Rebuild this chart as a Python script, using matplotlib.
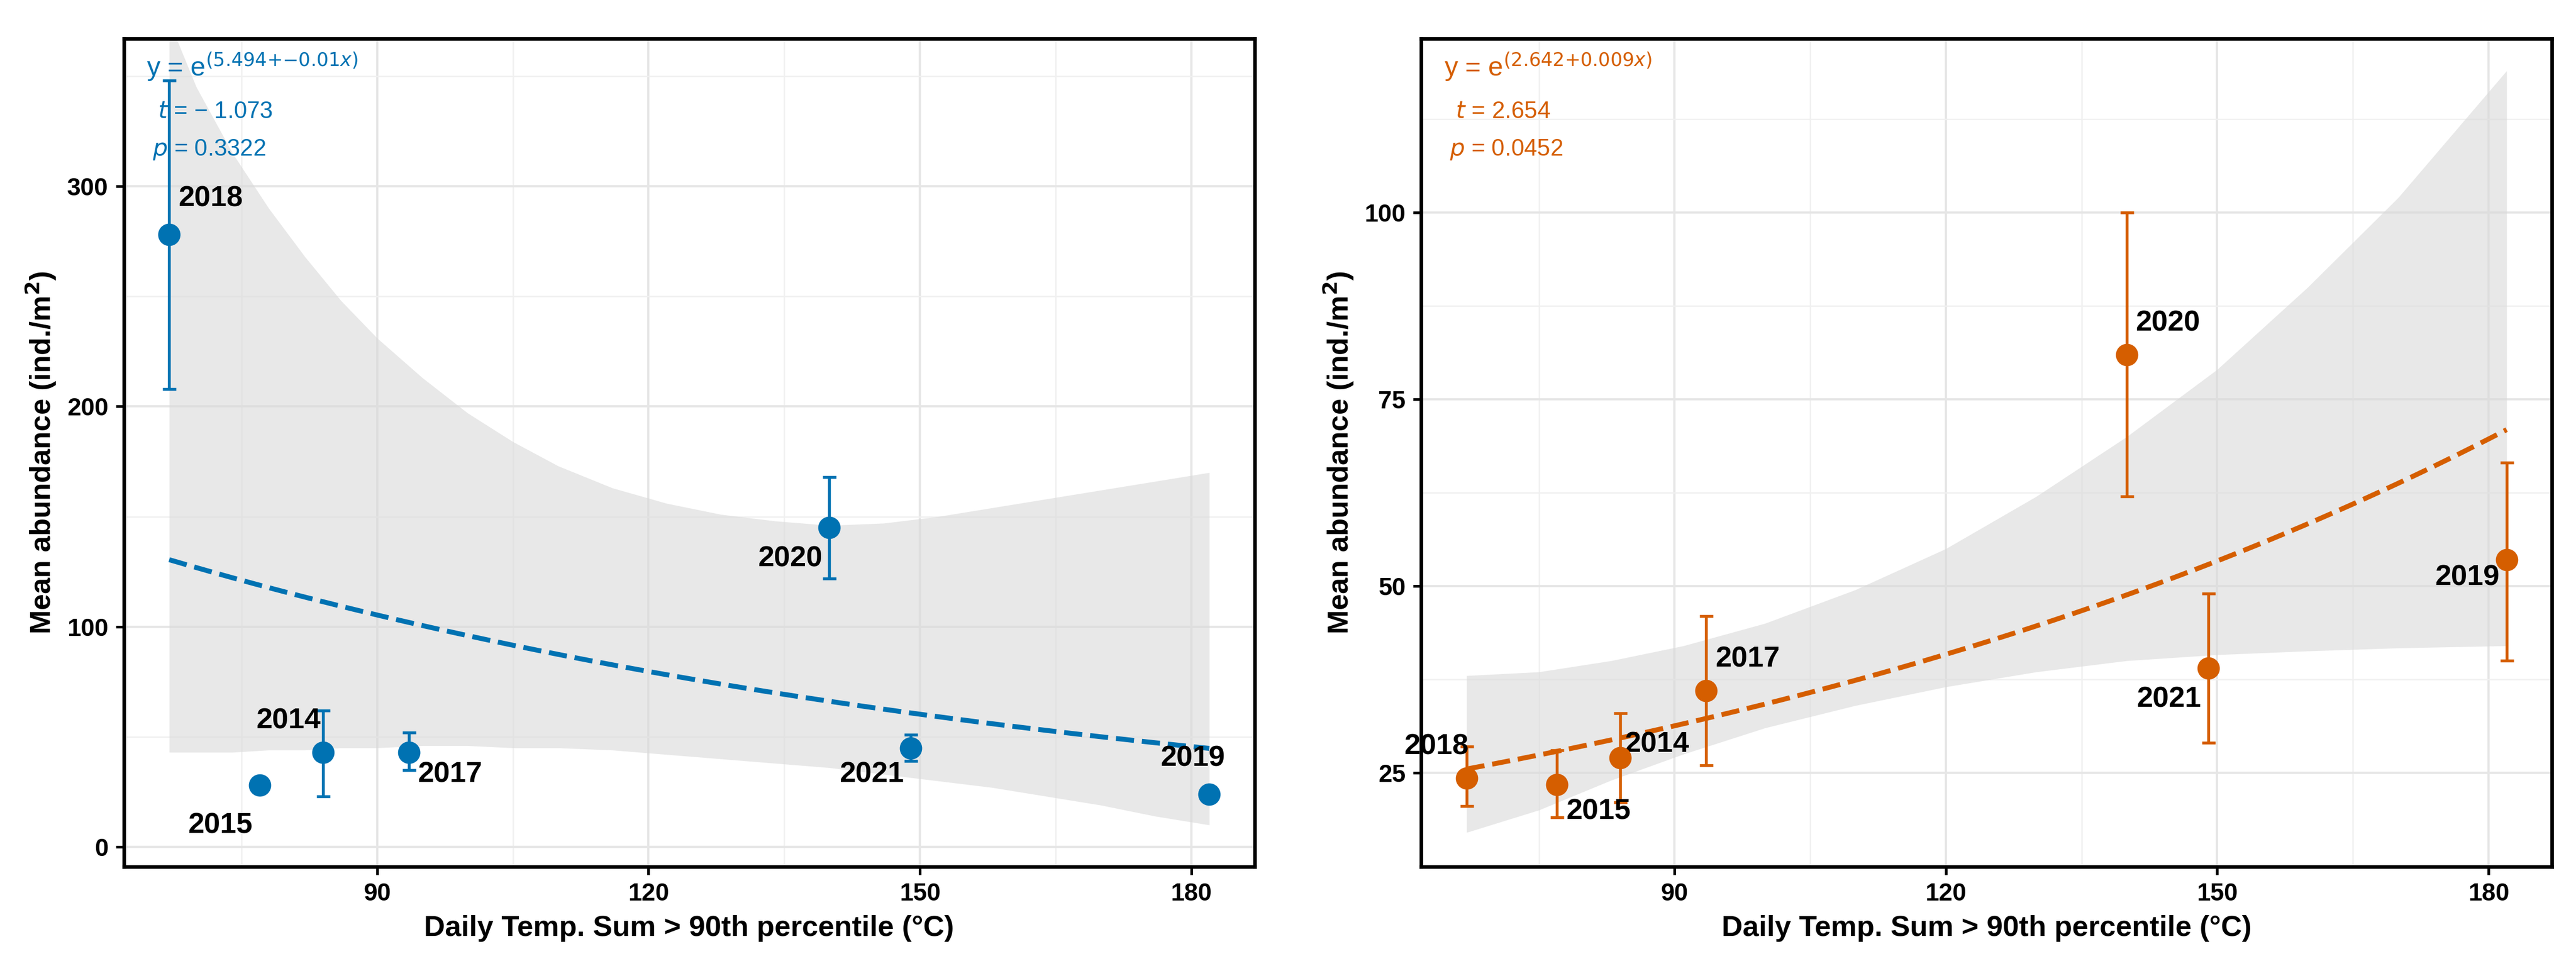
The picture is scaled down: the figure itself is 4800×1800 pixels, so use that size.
import numpy as np
import matplotlib.pyplot as plt

plt.rcParams['font.family'] = ['Liberation Sans', 'DejaVu Sans']

years = ["2018", "2015", "2014", "2017", "2020", "2021", "2019"]
temp_sum = [67, 77, 84, 93.5, 140, 149, 182]

# left panel (blue)
abund_a = [278, 28, 43, 43, 145, 45, 24]
err_lo_a = [208, 28, 23, 35, 122, 39, 22]
err_hi_a = [348, 28, 62, 52, 168, 51, 26]
band_x_a = [67, 70, 74, 78, 82, 86, 90, 95, 100, 105, 110, 116, 122, 128, 134, 140,
            146, 152, 158, 164, 170, 176, 182]
band_lo_a = [43, 43, 43, 44, 44, 45, 45, 46, 46, 45, 45, 44, 42, 40, 38, 36,
             33, 30, 27, 23, 19, 14, 10]
band_hi_a = [375, 345, 315, 290, 268, 248, 231, 213, 197, 184, 173, 163, 156, 151, 148, 146,
             147, 150, 154, 158, 162, 166, 170]
coef_a = (5.494, -0.0093)
offs_a = [(4, 10), (-32, -24), (-30, 8), (4, -16), (-32, -20), (-32, -18), (-22, 10)]

# right panel (orange)
abund_b = [24.3, 23.4, 27, 36, 81, 39, 53.5]
err_lo_b = [20.5, 19, 21, 26, 62, 29, 40]
err_hi_b = [28.5, 28, 33, 46, 100, 49, 66.5]
band_x_b = [67, 75, 83, 91, 100, 110, 120, 130, 140, 150, 160, 170, 182]
band_lo_b = [17, 20, 24, 27.5, 31, 34, 36.5, 38.5, 40, 40.8, 41.3, 41.7, 42]
band_hi_b = [38, 38.5, 40, 42, 45, 49.5, 55, 62, 70, 79, 90, 102, 119]
coef_b = (2.642, 0.0089)
offs_b = [(-28, 8), (4, -18), (2, 0), (4, 8), (4, 8), (-32, -20), (-32, -14)]

panels = [
    (abund_a, err_lo_a, err_hi_a, band_x_a, band_lo_a, band_hi_a, coef_a, offs_a,
     "#0072B2", ["y = e$^{(5.494{+}{\u2212}0.01x)}$", "$t$ = \u2212 1.073", "$p$ = 0.3322"],
     (-9, 367), [0, 100, 200, 300]),
    (abund_b, err_lo_b, err_hi_b, band_x_b, band_lo_b, band_hi_b, coef_b, offs_b,
     "#D55E00", ["y = e$^{(2.642{+}0.009x)}$", "$t$ = 2.654", "$p$ = 0.0452"],
     (12.4, 123.3), [25, 50, 75, 100]),
]

fig, axes = plt.subplots(1, 2, figsize=(16, 6), dpi=300)
for ax, (ab, lo, hi, bx, blo, bhi, coef, offs, col, txt, ylim, yt) in zip(axes, panels):
    ax.fill_between(bx, blo, bhi, color="#d9d9d9", alpha=0.6, lw=0, zorder=1)
    xs = np.linspace(min(temp_sum), max(temp_sum), 200)
    ax.plot(xs, np.exp(coef[0] + coef[1] * xs), "--", color=col, lw=2.2, zorder=2)
    ab = np.array(ab)
    yerr = [ab - np.array(lo), np.array(hi) - ab]
    ax.errorbar(temp_sum, ab, yerr=yerr, fmt="o", color=col, ms=9, capsize=3,
                elinewidth=1.3, capthick=1.3, zorder=3)
    for xv, yv, lab, off in zip(temp_sum, ab, years, offs):
        ax.annotate(lab, (xv, yv), xytext=off, textcoords="offset points",
                    fontsize=13, fontweight="bold", ha="left", va="bottom")
    ax.text(0.02, 0.985, txt[0], transform=ax.transAxes, color=col, fontsize=12, va="top")
    ax.text(0.03, 0.925, txt[1], transform=ax.transAxes, color=col, fontsize=10.5, va="top")
    ax.text(0.025, 0.88, txt[2], transform=ax.transAxes, color=col, fontsize=10.5, va="top")
    ax.set_xlim(62, 187)
    ax.set_ylim(*ylim)
    ax.set_xticks([90, 120, 150, 180])
    ax.set_xticks([75, 105, 135, 165], minor=True)
    ax.set_yticks(yt)
    mids = [(a + b) / 2 for a, b in zip(yt[:-1], yt[1:])]
    ax.set_yticks(mids + [yt[-1] + (yt[1] - yt[0]) / 2], minor=True)
    ax.grid(True, which="major", color="#e6e6e6", lw=1.0)
    ax.grid(True, which="minor", color="#f0f0f0", lw=0.6)
    ax.set_axisbelow(True)
    ax.tick_params(which="minor", length=0)
    ax.tick_params(which="major", labelsize=11, width=1.2)
    for t in ax.get_xticklabels() + ax.get_yticklabels():
        t.set_fontweight("bold")
    for s in ax.spines.values():
        s.set_linewidth(1.6)
    ax.set_xlabel("Daily Temp. Sum > 90th percentile (\u00b0C)", fontsize=13, fontweight="bold")
    ax.set_ylabel("Mean abundance (ind./m$^\\mathbf{2}$)", fontsize=13, fontweight="bold")

plt.tight_layout(w_pad=3, rect=(0, 0, 1, 0.985))
plt.savefig("out.png")
